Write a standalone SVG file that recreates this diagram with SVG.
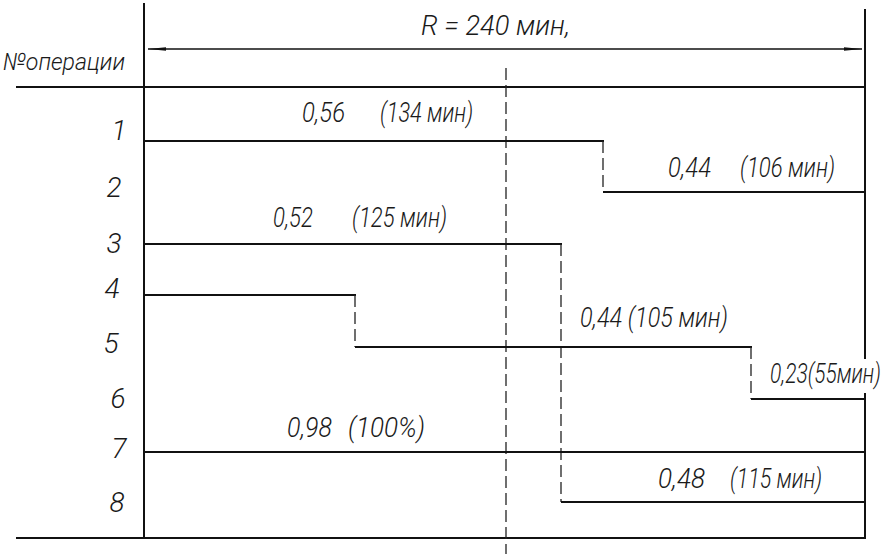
<svg xmlns="http://www.w3.org/2000/svg" width="893" height="554" viewBox="0 0 893 554">
  <style>
    .frame { stroke: #111; stroke-width: 2; fill: none; stroke-linecap: square; }
    .op { stroke: #111; stroke-width: 2; fill: none; }
    .dash { stroke: #222; stroke-width: 1.3; fill: none; stroke-dasharray: 12 5; }
    .dim { stroke: #111; stroke-width: 1.3; fill: none; }
    .t { font-family: Roboto, "Liberation Sans", "DejaVu Sans", sans-serif; font-style: italic; font-weight: 300; font-size: 28px; fill: #1a1a1a; }
    .n { text-anchor: middle; }
  </style>
  <defs>
    <marker id="arr" viewBox="0 0 18 5" refX="18" refY="2.5" markerWidth="18" markerHeight="5" markerUnits="userSpaceOnUse" orient="auto-start-reverse">
      <path d="M0,0.7 L18,2.5 L0,4.3 Z" fill="#111"/>
    </marker>
  </defs>
  <rect x="0" y="0" width="893" height="554" fill="#ffffff"/>

  <g id="frame">
    <line class="frame" x1="144" y1="4" x2="144" y2="538"/>
    <line class="frame" x1="865" y1="10" x2="865" y2="358"/>
    <line class="frame" x1="865" y1="394" x2="865" y2="538"/>
    <line class="frame" x1="17" y1="87" x2="865" y2="87"/>
    <line class="frame" x1="17" y1="538" x2="865" y2="538"/>
  </g>

  <g id="dimension">
    <line class="dim" x1="148" y1="49" x2="862" y2="49" marker-start="url(#arr)" marker-end="url(#arr)"/>
    <text class="t" x="421" y="35" textLength="149" lengthAdjust="spacingAndGlyphs">R = 240 мин,</text>
  </g>

  <g id="header">
    <text class="t" x="3" y="70" textLength="122" lengthAdjust="spacingAndGlyphs" style="font-size:24px">№операции</text>
  </g>

  <g id="numbers">
    <text class="t n" x="119" y="140">1</text>
    <text class="t n" x="114" y="197">2</text>
    <text class="t n" x="114" y="253">3</text>
    <text class="t n" x="112" y="298">4</text>
    <text class="t n" x="111" y="353">5</text>
    <text class="t n" x="118" y="408">6</text>
    <text class="t n" x="119" y="458">7</text>
    <text class="t n" x="117" y="512">8</text>
  </g>

  <g id="connectors">
    <line class="dash" x1="506" y1="68" x2="506" y2="554"/>
    <g id="op1-2">
      <line class="op" x1="144" y1="141" x2="604" y2="141"/>
      <line class="dash" x1="603" y1="141" x2="603" y2="192"/>
      <line class="op" x1="603" y1="192" x2="865" y2="192"/>
    </g>
    <g id="op3-8">
      <line class="op" x1="144" y1="244" x2="562" y2="244"/>
      <line class="dash" x1="561" y1="244" x2="561" y2="502"/>
      <line class="op" x1="561" y1="502" x2="865" y2="502"/>
    </g>
    <g id="op4-5-6">
      <line class="op" x1="144" y1="295" x2="356" y2="295"/>
      <line class="dash" x1="355" y1="295" x2="355" y2="347"/>
      <line class="op" x1="355" y1="347" x2="752" y2="347"/>
      <line class="dash" x1="751" y1="347" x2="751" y2="399"/>
      <line class="op" x1="751" y1="399" x2="865" y2="399"/>
    </g>
    <g id="op7">
      <line class="op" x1="144" y1="452" x2="865" y2="452"/>
    </g>
  </g>

  <g id="labels">
    <text class="t" y="122"><tspan x="302" textLength="43" lengthAdjust="spacingAndGlyphs">0,56</tspan><tspan x="380" textLength="93" lengthAdjust="spacingAndGlyphs">(134 мин)</tspan></text>
    <text class="t" y="177"><tspan x="668" textLength="43" lengthAdjust="spacingAndGlyphs">0,44</tspan><tspan x="740" textLength="95" lengthAdjust="spacingAndGlyphs">(106 мин)</tspan></text>
    <text class="t" y="227"><tspan x="273" textLength="40" lengthAdjust="spacingAndGlyphs">0,52</tspan><tspan x="352" textLength="95" lengthAdjust="spacingAndGlyphs">(125 мин)</tspan></text>
    <text class="t" x="580" y="327" textLength="148" lengthAdjust="spacingAndGlyphs">0,44 (105 мин)</text>
    <text class="t" transform="translate(770,383) scale(0.72,1)" x="0" y="0" textLength="154" lengthAdjust="spacingAndGlyphs">0,23(55мин)</text>
    <text class="t" y="437"><tspan x="287" textLength="45" lengthAdjust="spacingAndGlyphs">0,98</tspan><tspan x="348" textLength="77" lengthAdjust="spacingAndGlyphs">(100%)</tspan></text>
    <text class="t" y="488"><tspan x="658" textLength="47" lengthAdjust="spacingAndGlyphs">0,48</tspan><tspan x="730" textLength="92" lengthAdjust="spacingAndGlyphs">(115 мин)</tspan></text>
  </g>
</svg>
